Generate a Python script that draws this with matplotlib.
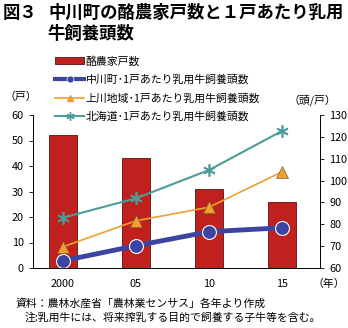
import matplotlib.pyplot as plt
from matplotlib.lines import Line2D
from matplotlib.patches import Patch

plt.rcParams['font.family'] = ['Noto Sans CJK JP', 'DejaVu Sans']

# data
years = ["2000", "05", "10", "15"]
farms = [52, 43, 31, 26]                 # 酪農家戸数 (戸)
nakagawa = [63.3, 70.2, 76.6, 78.4]      # 中川町 (頭/戸)
kamikawa = [69.7, 81.6, 87.8, 104.0]     # 上川地域
hokkaido = [83.0, 91.9, 104.8, 122.7]    # 北海道

red = "#c0201e"
blue = "#3b44a0"
orange = "#f0a030"
teal = "#4e9c9a"

fig = plt.figure(figsize=(3.48, 3.28), dpi=100)
ax = fig.add_axes([33 / 348, 60 / 328, 287 / 348, 153 / 328])
ax2 = ax.twinx()

x = list(range(len(years)))
ax.bar(x, farms, width=0.38, color=red, edgecolor="#5a1010", linewidth=0.6, zorder=1)
ax.set_ylim(0, 60)
ax.set_yticks(range(0, 61, 10))
ax.set_xlim(-0.41, 3.52)
ax.set_xticks(x)
ax.set_xticklabels(years)

ax2.plot(x, hokkaido, color=teal, linewidth=1.5, marker=(6, 2, 0), markersize=9,
         markeredgecolor=teal, markeredgewidth=1.2)
ax2.plot(x, kamikawa, color=orange, linewidth=1.2, marker="^", markersize=9,
         markerfacecolor=orange, markeredgecolor="#806030", markeredgewidth=0.5)
ax2.plot(x, nakagawa, color=blue, linewidth=3.5, marker="o", markersize=10,
         markerfacecolor=blue, markeredgecolor="white", markeredgewidth=0.8)
ax2.set_ylim(60, 130)
ax2.set_yticks(range(60, 131, 10))

for a in (ax, ax2):
    a.spines["top"].set_visible(False)
    a.tick_params(labelsize=7.8, length=3, width=0.6, colors="black")
    for s in a.spines.values():
        s.set_linewidth(0.6)
ax.tick_params(axis="x", length=0, pad=8)

# legend
handles = [
    Patch(facecolor=red, edgecolor="#5a1010", linewidth=0.6),
    Line2D([], [], color=blue, linewidth=3, marker="o", markersize=5,
           markeredgecolor="white", markeredgewidth=0.5),
    Line2D([], [], color=orange, linewidth=1.2, marker="^", markersize=5),
    Line2D([], [], color=teal, linewidth=1.5, marker=(6, 2, 0), markersize=6),
]
labels = ["酪農家戸数", "中川町･1戸あたり乳用牛飼養頭数",
          "上川地域･1戸あたり乳用牛飼養頭数", "北海道･1戸あたり乳用牛飼養頭数"]
fig.legend(handles, labels, loc="upper left", bbox_to_anchor=(50 / 348, 1 - 50 / 328),
           frameon=False, fontsize=7.8, handlelength=2.6, handletextpad=0.2,
           labelspacing=0.75, borderpad=0)

# titles and notes
fig.text(3 / 348, 1 - 13 / 328, "図３", fontsize=12.5, fontweight="bold", va="center")
fig.text(48 / 348, 1 - 13 / 328, "中川町の酪農家戸数と１戸あたり乳用",
         fontsize=12.5, fontweight="bold", va="center")
fig.text(48 / 348, 1 - 34 / 328, "牛飼養頭数", fontsize=12.5, fontweight="bold", va="center")
fig.text(4 / 348, 1 - 97 / 328, "（戸）", fontsize=7.8, va="center")
fig.text(288 / 348, 1 - 100 / 328, "（頭/戸）", fontsize=7.8, va="center")
fig.text(312 / 348, 1 - 284 / 328, "（年）", fontsize=7.8, va="center")
fig.text(15 / 348, 1 - 303 / 328, "資料：農林水産省「農林業センサス」各年より作成",
         fontsize=7.8, va="center")
fig.text(25 / 348, 1 - 318 / 328, "注:乳用牛には、将来搾乳する目的で飼養する子牛等を含む。",
         fontsize=7.8, va="center")

fig.savefig("out.png", dpi=100)
